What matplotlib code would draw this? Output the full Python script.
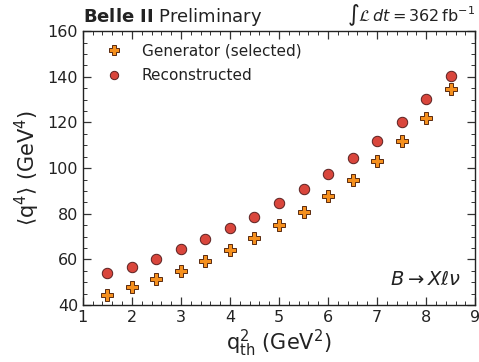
import numpy as np
import matplotlib.pyplot as plt
from matplotlib.ticker import AutoMinorLocator

# q^2 threshold values (GeV^2)
q2_th = [1.5, 2.0, 2.5, 3.0, 3.5, 4.0, 4.5, 5.0, 5.5, 6.0, 6.5, 7.0, 7.5, 8.0, 8.5]
# <q^4> for generator-level (selected) and reconstructed events (GeV^4)
q4_gen = [44.4, 47.9, 51.4, 55.0, 59.4, 64.2, 69.5, 75.3, 81.0, 87.7, 95.0, 103.0, 112.0, 122.0, 134.5]
q4_reco = [53.9, 56.8, 60.4, 64.4, 68.8, 73.6, 78.8, 84.7, 90.8, 97.5, 104.5, 112.0, 120.3, 130.3, 140.3]

fig = plt.figure(figsize=(4.79, 3.62), dpi=100)
ax = fig.add_axes([0.173, 0.157, 0.819, 0.757])

ax.plot(q2_th, q4_gen, linestyle='none', marker='P', markersize=8.5,
        markerfacecolor='#f5901e', markeredgecolor='#5a2a10', markeredgewidth=0.7,
        label='Generator (selected)')
ax.plot(q2_th, q4_reco, linestyle='none', marker='o', markersize=7.5,
        markerfacecolor='#d9463c', markeredgecolor='#5a2020', markeredgewidth=0.7,
        label='Reconstructed')

ax.set_xlim(1, 9)
ax.set_ylim(40, 160)
ax.set_xticks(np.arange(1, 10, 1))
ax.set_yticks(np.arange(40, 161, 20))
ax.xaxis.set_minor_locator(AutoMinorLocator())
ax.yaxis.set_minor_locator(AutoMinorLocator())
ax.tick_params(which='both', direction='in', top=True, right=True,
               labelsize=11.5, labelcolor='#222222', color='#333333')
ax.tick_params(which='major', length=6, width=0.9)
ax.tick_params(which='minor', length=3, width=0.7)
for s in ax.spines.values():
    s.set_linewidth(1.0)
    s.set_color('#222222')

ax.set_xlabel(r'$\mathrm{q^2_{th}}$ (GeV$^2$)', fontsize=15, labelpad=2, color='#222222')
ax.set_ylabel(r'$\langle\mathrm{q^4}\rangle$ (GeV$^4$)', fontsize=15, labelpad=4, color='#222222')

ax.legend(loc='upper left', frameon=False, fontsize=11, markerscale=0.8,
          handlelength=1.0, handletextpad=1.3, borderaxespad=0.4,
          labelspacing=0.65, bbox_to_anchor=(0.03, 1.0), labelcolor='#222222')

ax.text(0.0, 1.012, r'$\bf{Belle\ II}$ Preliminary', transform=ax.transAxes,
        fontsize=13, ha='left', va='bottom', color='#222222')
ax.text(1.0, 1.012, r'$\int\mathcal{L}\,dt=362\,\mathrm{fb}^{-1}$', transform=ax.transAxes,
        fontsize=11.5, ha='right', va='bottom', color='#222222')
ax.text(0.965, 0.06, r'$B\rightarrow X\ell\nu$', transform=ax.transAxes,
        fontsize=14, ha='right', va='bottom', color='#222222')

fig.savefig('out.png', dpi=100)
